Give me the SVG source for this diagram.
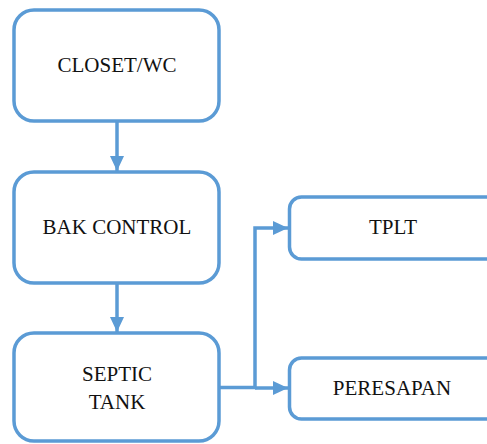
<svg xmlns="http://www.w3.org/2000/svg" width="487" height="444" viewBox="0 0 487 444">
  <style>
    .box { fill: #ffffff; stroke: #5b9bd5; stroke-width: 3.5; }
    .wire { fill: none; stroke: #5b9bd5; stroke-width: 3.5; }
    .label { font-family: "Liberation Serif", "Times New Roman", serif; font-size: 21px; fill: #111111; text-anchor: middle; }
  </style>
  <defs>
    <marker id="arrow" markerUnits="userSpaceOnUse" markerWidth="16" markerHeight="16" viewBox="0 0 16 16" refX="15" refY="8" orient="auto">
      <path d="M0,1 L15,8 L0,15 Z" fill="#5b9bd5"/>
    </marker>
  </defs>
  <rect width="487" height="444" fill="#ffffff"/>

  <g id="connectors">
    <line class="wire" x1="117" y1="121" x2="117" y2="171" marker-end="url(#arrow)"/>
    <line class="wire" x1="117" y1="283" x2="117" y2="332" marker-end="url(#arrow)"/>
    <path class="wire" d="M219,387.5 H255 V228 H288" marker-end="url(#arrow)"/>
    <line class="wire" x1="255" y1="388" x2="288" y2="388" marker-end="url(#arrow)"/>
  </g>

  <g id="closet">
    <rect class="box" x="14" y="10" width="205" height="111" rx="20"/>
    <text class="label" x="117" y="72">CLOSET/WC</text>
  </g>

  <g id="bak-control">
    <rect class="box" x="14" y="172" width="205" height="111" rx="20"/>
    <text class="label" x="117" y="234">BAK CONTROL</text>
  </g>

  <g id="septic-tank">
    <rect class="box" x="14" y="333" width="205" height="108" rx="20"/>
    <text class="label" x="117" y="381">SEPTIC</text>
    <text class="label" x="117" y="409">TANK</text>
  </g>

  <g id="tplt">
    <rect class="box" x="289.5" y="197" width="220" height="62" rx="12"/>
    <text class="label" x="393" y="234">TPLT</text>
  </g>

  <g id="peresapan">
    <rect class="box" x="289.5" y="358" width="220" height="61" rx="12"/>
    <text class="label" x="392" y="395">PERESAPAN</text>
  </g>
</svg>
